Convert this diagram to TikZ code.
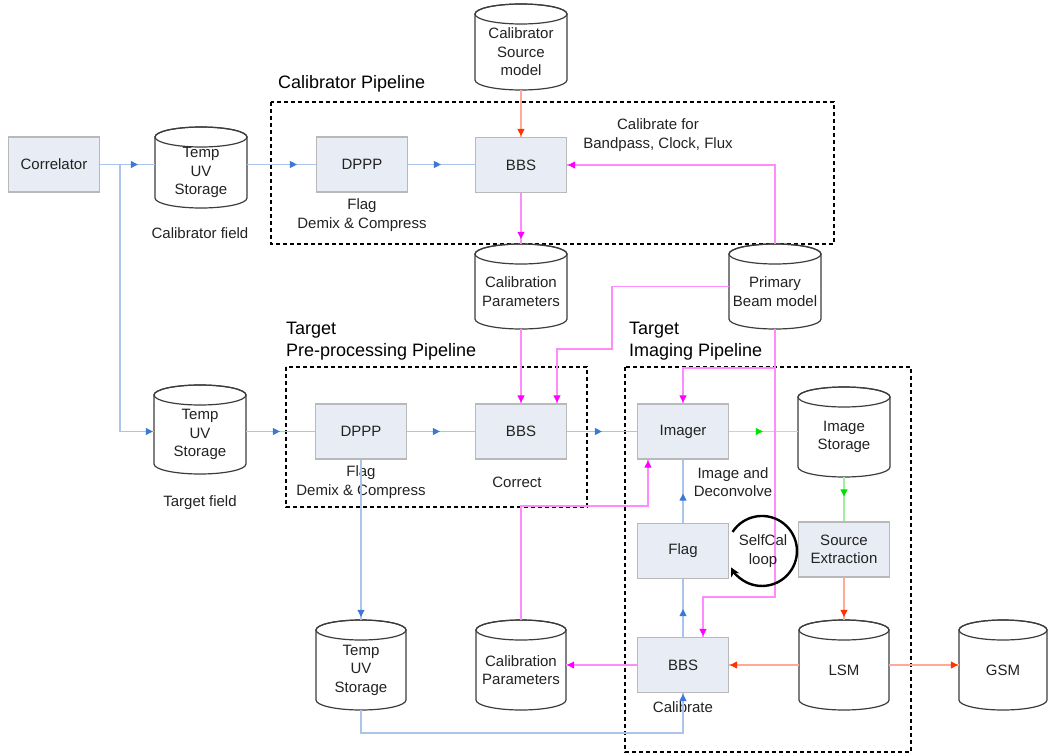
\documentclass[tikz,border=0pt]{standalone}
\usepackage{fontspec}
\setmainfont{Liberation Sans}
\usetikzlibrary{arrows.meta,decorations.markings}

\definecolor{boxfill}{RGB}{232,237,245}
\definecolor{boxdraw}{RGB}{185,185,185}
\definecolor{cyldraw}{RGB}{60,60,60}
\definecolor{txt}{RGB}{34,34,34}
\definecolor{bline}{RGB}{170,196,235}
\definecolor{barr}{RGB}{61,120,216}
\definecolor{pline}{RGB}{255,140,255}
\definecolor{parr}{RGB}{255,0,255}
\definecolor{rline}{RGB}{255,170,150}
\definecolor{rarr}{RGB}{255,51,0}
\definecolor{gline}{RGB}{160,240,160}
\definecolor{garr}{RGB}{0,225,0}

\tikzset{
  proc/.style={draw=boxdraw, fill=boxfill, line width=1.2pt, minimum width=91pt, minimum height=55pt,
    inner sep=0pt, text=txt, font=\fontsize{15}{18.5}\selectfont, align=center},
  cylbox/.style={inner sep=0pt},
  cylshape/.style={fill=white, draw=cyldraw, line width=1.2pt},
  ctext/.style={text=txt, font=\fontsize{15}{18.5}\selectfont, align=center, inner sep=0pt},
  lbl/.style={text=txt, font=\fontsize{15}{18.5}\selectfont, align=center, inner sep=0pt},
  head/.style={text=black, font=\fontsize{18}{22}\selectfont, anchor=west, inner sep=0pt},
  pipe/.style={draw=black, line width=1.8pt, dash pattern=on 4pt off 3pt},
  tipat/.style 2 args={postaction={decorate}, decoration={markings,
      mark=at position #1 with {\arrow{Triangle[length=7pt,width=7pt,color=#2]}}}},
  bflow/.style={draw=bline, line width=1.1pt, tipat={#1}{barr}},
  pflow/.style={draw=pline, line width=1.1pt, tipat={#1}{parr}},
  rflow/.style={draw=rline, line width=1.1pt, tipat={#1}{rarr}},
  gflow/.style={draw=gline, line width=1.1pt, tipat={#1}{garr}},
  pline/.style={draw=pline, line width=1.1pt},
  loopline/.style={draw=black, line width=2.4pt, -{Stealth[length=9pt,width=9pt]}}
}

% #1 name, #2 cx, #3 top, #4 bottom, #5 half width, #6 text
\newcommand\cylnode[6]{%
  \path[cylshape] (#2-#5,#3+10) -- (#2-#5,#4-10)
    arc[start angle=180,end angle=360,x radius=#5pt,y radius=10pt]
    -- (#2+#5,#3+10)
    arc[start angle=0,end angle=180,x radius=#5pt,y radius=10pt] -- cycle;
  \draw[cylshape, fill=none] (#2,#3+10) ellipse[x radius=#5pt, y radius=10pt];
  \node[cylbox, minimum width={2*#5pt}, minimum height={(#4-#3)*1pt}] (#1) at (#2,{(#3+#4)/2}) {};
  \node[ctext] (#1-t) at (#2,{(#3+#4)/2+5}) {#6};
}

\begin{document}
\begin{tikzpicture}[x=1pt,y=-1pt]
\useasboundingbox (0,0) rectangle (1049,755);

% pipelines
\draw[pipe] (271,102) rectangle (834,244);
\draw[pipe] (286,367) rectangle (587,507);
\draw[pipe] (625,367) rectangle (911,752);

\node[head] (hcal) at (278,84) {Calibrator Pipeline};
\node[head] (ht1) at (286,330) {Target};
\node[head] (ht2) at (286,352) {Pre-processing Pipeline};
\node[head] (hi1) at (629,330) {Target};
\node[head] (hi2) at (629,352) {Imaging Pipeline};

% process boxes
\node[proc] (Corr) at (54,164.5) {Correlator};
\node[proc] (DPPPc) at (362,164.5) {DPPP};
\node[proc] (BBSc) at (521,165) {BBS};
\node[proc] (DPPPt) at (361,431.5) {DPPP};
\node[proc] (BBSt) at (521,431.5) {BBS};
\node[proc] (Imager) at (683,431.5) {Imager};
\node[proc] (Flag) at (683,551) {Flag};
\node[proc] (SrcExt) at (844,549.5) {Source\\Extraction};
\node[proc] (BBSi) at (683,665) {BBS};

% cylinders
\cylnode{TempC}{201}{127}{208}{46}{Temp\\UV\\Storage}
\cylnode{CalSrc}{521}{4}{90}{46}{Calibrator\\Source\\model}
\cylnode{CalParT}{521}{244}{329}{46}{Calibration\\Parameters}
\cylnode{PB}{775}{244}{329}{46}{Primary\\Beam model}
\cylnode{TempT}{200}{385}{474}{46}{Temp\\UV\\Storage}
\cylnode{ImgSt}{844}{387}{477}{46}{Image\\Storage}
\cylnode{TempB}{361}{620}{710}{45}{Temp\\UV\\Storage}
\cylnode{CalParB}{521}{620}{710}{45}{Calibration\\Parameters}
\cylnode{LSM}{844}{620}{710}{45}{LSM}
\cylnode{GSM}{1003}{620}{710}{44}{GSM}

% labels
\node[lbl] (lcf) at (200,233) {Calibrator field};
\node[lbl] (lfd1) at (362,215) {Flag\\Demix \& Compress};
\node[lbl] (lcal) at (658,135) {Calibrate for\\Bandpass, Clock, Flux};
\node[lbl] (ltf) at (200,503) {Target field};
\node[lbl] (lfd2) at (361,482) {Flag\\Demix \& Compress};
\node[lbl] (lcor) at (517,482) {Correct};
\node[lbl] (lid) at (733,482) {Image and\\Deconvolve};
\node[lbl] (lcb) at (683,707) {Calibrate};

% coordinates
\coordinate (br) at (120,164.5);
\coordinate (pbA) at (612,286.5);
\coordinate (pbB) at (612,349);
\coordinate (pbC) at (557,349);
\coordinate (pbim) at (683,368);
\coordinate (pbturn) at (703,597);
\coordinate (cpA) at (521,506);
\coordinate (cpB) at (648,506);
\coordinate (tbA) at (361,733);
\coordinate (tbB) at (683,733);

% blue flows
\draw[bflow=-17pt] (Corr.east) -- (Corr.east -| TempC.west);
\draw[bflow=-1pt] (br) |- (TempT.west |- DPPPt.center);
\draw[bflow=-19pt] (TempC.east |- DPPPc.center) -- (DPPPc.west);
\draw[bflow=-34pt] (DPPPc.east) -- (DPPPc.east -| BBSc.west);
\draw[bflow=-35pt] (TempT.east |- DPPPt.center) -- (DPPPt.west);
\draw[bflow=-35pt] (DPPPt.east) -- (BBSt.west);
\draw[bflow=-35pt] (BBSt.east) -- (Imager.west);
\draw[bflow=-34pt] (Flag.north) -- (Imager.south);
\draw[bflow=-30pt] (BBSi.north) -- (Flag.south);
\draw[bflow=-3pt] (DPPPt.south) -- (TempB.north);
\draw[bflow=-1pt] (TempB.south) -- (tbA) -- (tbB) -- (BBSi.south);

% red flows
\draw[rflow=-1pt] (CalSrc.south) -- (BBSc.north);
\draw[rflow=-3pt] (SrcExt.south) -- (SrcExt.south |- LSM.north);
\draw[rflow=-1pt] (LSM.west) -- (BBSi.east);
\draw[rflow=-1pt] (LSM.east) -- (GSM.west);

% green flows
\draw[gflow=-35pt] (Imager.east) -- (Imager.east -| ImgSt.west);
\draw[gflow=-25pt] (ImgSt.south) -- (ImgSt.south |- SrcExt.north);

% magenta flows
\draw[pflow=-5pt] (BBSc.south) -- (CalParT.north);
\draw[pflow=-1pt] (PB.north) |- (BBSc.east);
\draw[pflow=-1pt] (CalParT.south) -- (BBSt.north);
\draw[pflow=-1pt] (PB.west |- pbA) -- (pbA) -- (pbB) -- (pbC) -- (pbC |- BBSt.north);
\draw[pflow=-1pt] (PB.south) |- (pbturn) -- (pbturn |- BBSi.north);
\draw[pflow=-1pt] (PB.south |- pbim) -- (pbim) -- (Imager.north);
\draw[pflow=-1pt] (CalParB.north) -- (cpA) -- (cpB) -- (cpB |- Imager.south);
\draw[pflow=-1pt] (BBSi.west) -- (CalParB.east);

% SelfCal loop
\draw[loopline] (732.6,531.9) arc[start angle=147, end angle=-152, radius=35pt];
\node[lbl] (lsc) at (763,551) {SelfCal\\loop};

\end{tikzpicture}
\end{document}
